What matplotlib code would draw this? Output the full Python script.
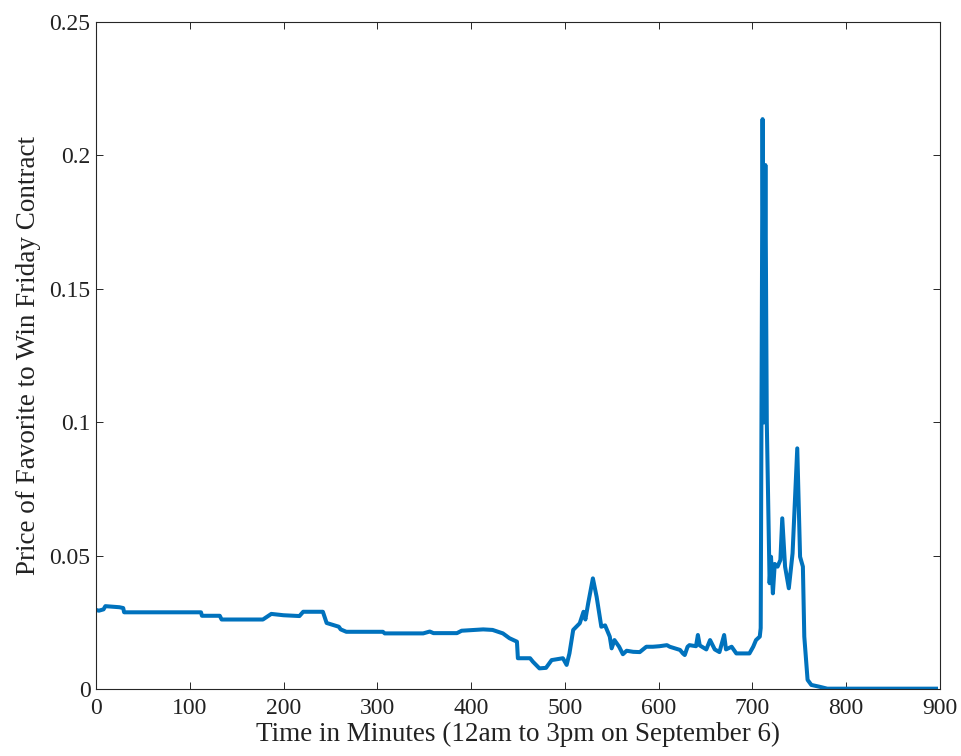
import matplotlib

matplotlib.use('Agg')
import matplotlib.pyplot as plt

# Minutes since midnight and price of the favourite
minutes = [0, 3, 8, 10, 25, 29, 30, 112, 113, 132, 134, 178, 187, 200, 217, 221,
           242, 246, 259, 261, 267, 306, 308, 349, 356, 360, 385, 390, 413, 423,
           434, 441, 449, 450, 463, 466, 473, 480, 486, 498, 502, 505, 509, 516,
           520, 522, 525, 530, 534, 539, 543, 548, 550, 553, 558, 562, 566, 573,
           580, 587, 594, 601, 609, 612, 623, 626, 628, 631, 633, 640, 642, 644,
           651, 655, 660, 665, 670, 672, 678, 683, 687, 697, 701, 704, 708, 709,
           711, 712.5, 714, 715.5, 718.5, 720, 722, 724, 727, 730, 732, 735, 739,
           743, 748, 751, 754, 755.5, 759, 763, 772, 780, 896]
price = [0.0298, 0.0295, 0.0300, 0.0312, 0.0308, 0.0305, 0.0289, 0.0289, 0.0276,
         0.0276, 0.0262, 0.0262, 0.0283, 0.0278, 0.0275, 0.0291, 0.0291, 0.0249,
         0.0235, 0.0225, 0.0216, 0.0216, 0.0210, 0.0210, 0.0217, 0.0211, 0.0211,
         0.0220, 0.0225, 0.0223, 0.0210, 0.0192, 0.0179, 0.0117, 0.0117, 0.0104,
         0.0079, 0.0081, 0.0110, 0.0117, 0.0092, 0.0135, 0.0223, 0.0248, 0.0291,
         0.0262, 0.0323, 0.0416, 0.0347, 0.0235, 0.0240, 0.0198, 0.0154, 0.0185,
         0.0160, 0.0132, 0.0145, 0.0141, 0.0140, 0.0160, 0.0160, 0.0162, 0.0166,
         0.0160, 0.0148, 0.0135, 0.0129, 0.0160, 0.0166, 0.0162, 0.0204, 0.0165,
         0.0150, 0.0185, 0.0150, 0.0140, 0.0204, 0.0150, 0.0160, 0.0135, 0.0135,
         0.0135, 0.0160, 0.0185, 0.0198, 0.0230, 0.2136, 0.1000, 0.1964, 0.1000,
         0.0398, 0.0497, 0.0360, 0.0470, 0.0460, 0.0485, 0.0641, 0.0460, 0.0379,
         0.0510, 0.0903, 0.0497, 0.0460, 0.0198, 0.0036, 0.0017, 0.0010, 0.0003,
         0.0003]

xticks = [0, 100, 200, 300, 400, 500, 600, 700, 800, 900]
yticks = [0, 0.05, 0.1, 0.15, 0.2, 0.25]
ytick_labels = ['0', '0.05', '0.1', '0.15', '0.2', '0.25']

plt.rcParams['font.family'] = ['Liberation Serif', 'DejaVu Serif']
plt.rcParams['font.size'] = 17

fig = plt.figure(figsize=(9.61, 7.56), dpi=100)
ax = fig.add_axes([0.0999, 0.088, 0.878, 0.883])

ax.plot(minutes, price, color='#0072BD', linewidth=2.9, solid_joinstyle='round')

ax.set_xlim(0, 900)
ax.set_ylim(0, 0.25)
ax.set_xticks(xticks)
ax.set_yticks(yticks)
ax.set_yticklabels(ytick_labels)

ax.tick_params(direction='in', length=5, width=0.7, color='#262626', pad=4,
               top=True, right=True, labelcolor='#222222', labelsize=17)
ax.tick_params(axis='x', pad=6)
for s in ax.spines.values():
    s.set_color('#262626')
    s.set_linewidth(0.8)

ax.set_xlabel('Time in Minutes (12am to 3pm on September 6)', fontsize=19.5,
              labelpad=2, color='#222222')
ax.set_ylabel('Price of Favorite to Win Friday Contract', fontsize=19.5,
              labelpad=6, color='#222222')

plt.savefig('out.png')
